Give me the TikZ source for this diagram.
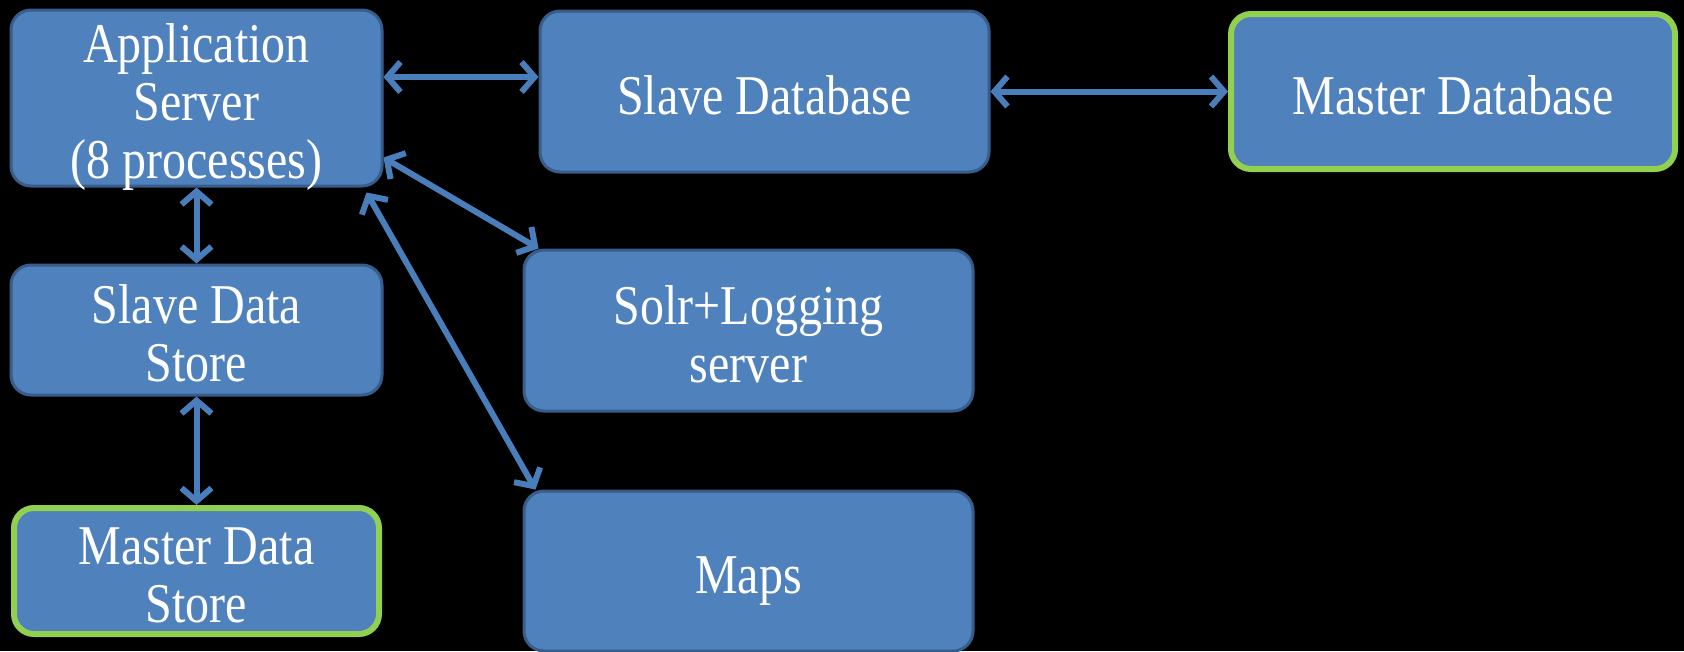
\documentclass[tikz,border=0pt]{standalone}
\usepackage{fontspec}
\setmainfont{Liberation Serif}
\usetikzlibrary{arrows.meta,calc}
\definecolor{boxfill}{HTML}{4F81BD}
\definecolor{boxline}{HTML}{385D8A}
\definecolor{greenline}{HTML}{92D050}
\definecolor{arrowcol}{HTML}{4A7EBB}
\newcommand{\tallText}[1]{\raisebox{-11pt}[\height][\depth]{\scalebox{1}[1.17]{\begin{tabular}{@{}c@{}}#1\end{tabular}}}}
\begin{document}
\begin{tikzpicture}[x=1pt,y=-1pt,
  box/.style={rectangle,rounded corners=20pt,fill=boxfill,draw=boxline,line width=3pt,
    text=white,align=center,font=\fontsize{48}{49.5}\selectfont,inner sep=0pt},
  masterbox/.style={box,draw=greenline,line width=6pt},
  arr/.style={draw=arrowcol,line width=6pt,{Straight Barb[length=13pt,width=30pt]}-{Straight Barb[length=13pt,width=30pt]}}]
\fill[black] (0,0) rectangle (1684,651);
\useasboundingbox (0,0) rectangle (1684,651);
\node[box,minimum width=371pt,minimum height=176pt] (App) at (196.5,98) {\tallText{Application\\Server\\(8 processes)}};
\node[box,minimum width=449pt,minimum height=161pt] (SlaveDB) at (764.5,91.5) {\tallText{Slave Database}};
\node[masterbox,minimum width=444pt,minimum height=155pt] (MasterDB) at (1453,91.5) {\tallText{Master Database}};
\node[box,minimum width=371pt,minimum height=130pt] (SDS) at (196.5,330) {\tallText{Slave Data\\Store}};
\node[masterbox,minimum width=365pt,minimum height=126pt] (MDS) at (196.5,571) {\tallText{Master Data\\Store}};
\node[box,minimum width=449pt,minimum height=161pt] (Solr) at (748.5,330.5) {\tallText{Solr+Logging\\server}};
\node[box,minimum width=449pt,minimum height=160pt] (Maps) at (748.5,571) {\tallText{Maps}};
\draw[arr] ([yshift=21pt]App.east) -- ([yshift=21pt]App.east -| SlaveDB.west);
\draw[arr] (SlaveDB.east) -- (MasterDB.west);
\draw[arr] (App.south) -- (SDS.north);
\draw[arr] (SDS.south) -- (MDS.north);
\draw[arr] ([yshift=30pt]App.south east) -- ([xshift=16pt]Solr.north west);
\draw[arr] ([xshift=-17pt,yshift=-5pt]App.south east) -- ([xshift=13pt]Maps.north west);
\end{tikzpicture}
\end{document}
